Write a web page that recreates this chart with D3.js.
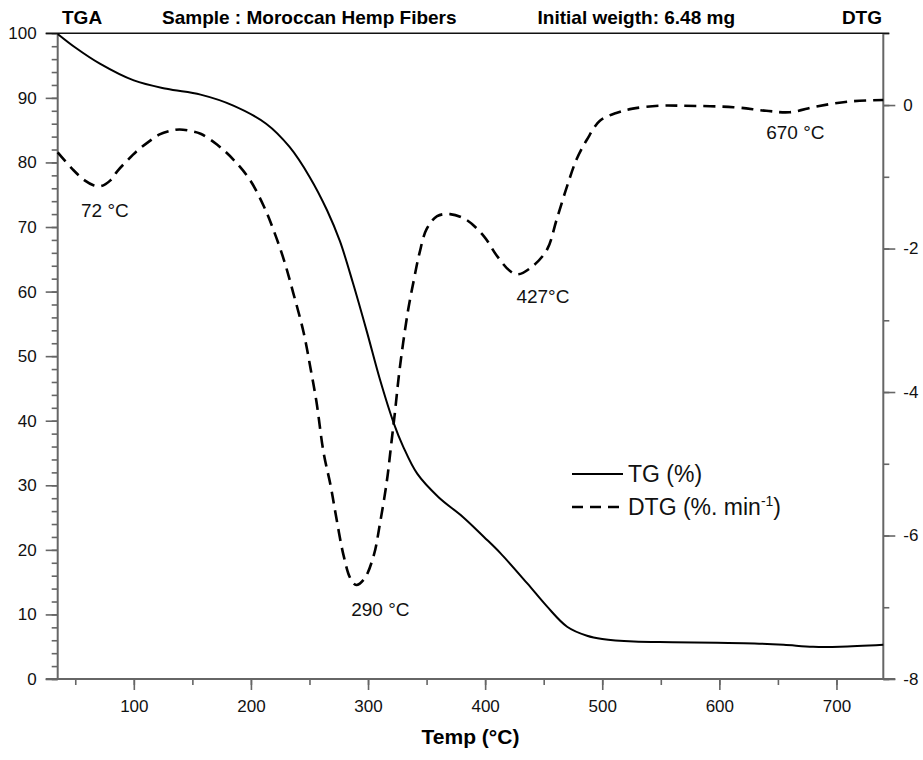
<!DOCTYPE html>
<html>
<head>
<meta charset="utf-8">
<script src="https://cdn.jsdelivr.net/npm/d3@7"></script>
<style>
  html, body { margin: 0; padding: 0; background: #fff; }
  svg { display: block; font-family: "Liberation Sans", Arial, Helvetica, sans-serif; }
</style>
</head>
<body>
<svg id="chart" width="923" height="760"></svg>
<script>
// Thermogravimetric curve: temperature (°C) and residual mass (%)
const tgTemp = [35, 50, 71, 100, 128, 157, 185, 213, 233, 250, 265, 276, 287, 299, 310, 322, 330, 342, 360, 381, 399, 413, 436, 453, 470, 487, 500, 527, 560, 598, 630, 655, 680, 703, 740];
const tgValue = [99.9, 97.8, 95.3, 92.7, 91.4, 90.5, 88.8, 86.0, 82.4, 77.8, 72.6, 67.8, 61.4, 53.8, 46.5, 39.6, 36.0, 31.8, 28.2, 25.1, 22.0, 19.5, 14.8, 11.2, 8.1, 6.7, 6.2, 5.8, 5.7, 5.6, 5.5, 5.3, 5.0, 5.0, 5.3];

// Derivative curve: temperature (°C) and mass-loss rate (%/min)
const dtgTemp = [35, 48, 58, 66, 72, 80, 86, 94, 102, 112, 122, 131, 139, 148, 157, 171, 185, 199, 211, 219, 228, 236, 245, 251, 256, 262, 268, 273, 279, 285, 290, 297, 305, 310, 316, 320, 323, 327, 334, 339, 344, 350, 359, 370, 384, 399, 410, 421, 428, 441, 453, 461, 470, 478, 487, 498, 512, 526, 549, 569, 612, 640, 660, 683, 711, 740];
const dtgValue = [-0.66, -0.90, -1.05, -1.12, -1.13, -1.05, -0.92, -0.78, -0.65, -0.52, -0.41, -0.36, -0.34, -0.36, -0.40, -0.55, -0.76, -1.04, -1.41, -1.73, -2.15, -2.61, -3.17, -3.68, -4.14, -4.84, -5.30, -5.76, -6.27, -6.60, -6.69, -6.60, -6.27, -5.85, -5.25, -4.70, -4.28, -3.68, -2.88, -2.45, -2.06, -1.73, -1.55, -1.52, -1.60, -1.83, -2.10, -2.31, -2.36, -2.24, -2.01, -1.60, -1.13, -0.76, -0.48, -0.22, -0.11, -0.05, -0.01, -0.01, -0.03, -0.08, -0.10, -0.02, 0.05, 0.07];

// Axis ticks
const xTicks = [100, 200, 300, 400, 500, 600, 700];
const tgTicks = [0, 10, 20, 30, 40, 50, 60, 70, 80, 90, 100];
const dtgTicks = [-8, -6, -4, -2, 0];

// Peak annotations on the derivative curve
const peakLabels = ["72 °C", "290 °C", "427°C", "670 °C"];
const peakTemp = [72, 290, 428, 670];
const peakValue = [-1.13, -6.69, -2.36, -0.07];

// Header texts
const headerLeft = "TGA";
const headerSample = "Sample : Moroccan Hemp Fibers";
const headerWeight = "Initial weigth: 6.48 mg";
const headerRight = "DTG";
const xTitle = "Temp (°C)";

const svg = d3.select("#chart");
const W = 923, H = 760;
const m = { left: 57.7, right: 39.7, top: 33.3, bottom: 81 };
const x0 = m.left, x1 = W - m.right, y0 = H - m.bottom, y1 = m.top;

const x = d3.scaleLinear().domain([35, 740]).range([x0, x1]);
const yL = d3.scaleLinear().domain([0, 100]).range([y0, y1]);
const yR = d3.scaleLinear().domain([-8, 1]).range([y0, y1]);

const axisColor = "#666";
const tickFont = 17;

// Bottom axis: majors every 100, minors at 50s
const gx = svg.append("g").attr("transform", `translate(0,${y0})`);
gx.call(d3.axisBottom(x).tickValues(d3.range(50, 741, 50)).tickSize(6).tickFormat(""));
gx.append("g").call(d3.axisBottom(x).tickValues(xTicks).tickSize(11).tickPadding(10).tickFormat(d3.format("d")));
gx.selectAll(".domain").remove();
gx.selectAll("line").attr("stroke", axisColor).attr("stroke-width", 1.6);
gx.selectAll("text").attr("font-size", tickFont).attr("fill", "#111").attr("font-family", null);
gx.append("line").attr("x1", x0 - 12).attr("x2", x1 + 12).attr("stroke", axisColor).attr("stroke-width", 2);

// Left axis (TG %): majors every 10, minors every 2
const gl = svg.append("g").attr("transform", `translate(${x0},0)`);
gl.call(d3.axisLeft(yL).tickValues(d3.range(0, 101, 2)).tickSize(6).tickFormat(""));
gl.append("g").call(d3.axisLeft(yL).tickValues(tgTicks).tickSize(12).tickPadding(9).tickFormat(d3.format("d")));
gl.selectAll(".domain").remove();
gl.selectAll("line").attr("stroke", axisColor).attr("stroke-width", 1.6);
gl.selectAll("text").attr("font-size", tickFont).attr("fill", "#111").attr("font-family", null);
gl.append("line").attr("y1", y0).attr("y2", y1).attr("stroke", axisColor).attr("stroke-width", 2);

// Right axis (DTG): majors every 2, minors every 1
const gr = svg.append("g").attr("transform", `translate(${x1},0)`);
gr.call(d3.axisRight(yR).tickValues(d3.range(-8, 2, 1)).tickSize(6).tickFormat(""));
gr.append("g").call(d3.axisRight(yR).tickValues(dtgTicks).tickSize(12).tickPadding(8).tickFormat(d => d3.format("d")(d).replace("−", "-")));
gr.selectAll(".domain").remove();
gr.selectAll("line").attr("stroke", axisColor).attr("stroke-width", 1.6);
gr.selectAll("text").attr("font-size", tickFont).attr("fill", "#111").attr("font-family", null);
gr.append("line").attr("y1", y0).attr("y2", y1).attr("stroke", axisColor).attr("stroke-width", 2);

// Top frame line
svg.append("line").attr("x1", x0 - 12).attr("x2", x1 + 6).attr("y1", y1).attr("y2", y1)
  .attr("stroke", "#111").attr("stroke-width", 1.5);

// Curves
const tgData = tgTemp.map((t, i) => [t, tgValue[i]]);
const dtgData = dtgTemp.map((t, i) => [t, dtgValue[i]]);
const smooth = d3.curveCatmullRom.alpha(0.5);

svg.append("path").datum(tgData)
  .attr("fill", "none").attr("stroke", "#000").attr("stroke-width", 2)
  .attr("d", d3.line().x(d => x(d[0])).y(d => yL(d[1])).curve(smooth));

svg.append("path").datum(dtgData)
  .attr("fill", "none").attr("stroke", "#000").attr("stroke-width", 2.6)
  .attr("stroke-dasharray", "12,7")
  .attr("d", d3.line().x(d => x(d[0])).y(d => yR(d[1])).curve(smooth));

// Peak annotations (offsets place each label beside its minimum)
const labelOffsets = [[-20, 31], [24, 31], [25, 29], [-6, 29]];
svg.append("g").selectAll("text").data(peakLabels).join("text")
  .attr("x", (d, i) => x(peakTemp[i]) + labelOffsets[i][0])
  .attr("y", (d, i) => yR(peakValue[i]) + labelOffsets[i][1])
  .attr("text-anchor", (d, i) => i === 0 ? "start" : "middle")
  .attr("font-size", 19).attr("fill", "#111")
  .text(d => d);

// Header
const header = svg.append("g").attr("font-weight", "bold").attr("font-size", 19).attr("fill", "#000");
header.append("text").attr("x", 62).attr("y", 24).text(headerLeft);
header.append("text").attr("x", 162).attr("y", 24).text(headerSample);
header.append("text").attr("x", 735).attr("y", 24).attr("text-anchor", "end").text(headerWeight);
header.append("text").attr("x", 882).attr("y", 24).attr("text-anchor", "end").text(headerRight);

// X axis title
svg.append("text").attr("x", (x0 + x1) / 2).attr("y", 744).attr("text-anchor", "middle")
  .attr("font-weight", "bold").attr("font-size", 21).text(xTitle);

// Legend
const legend = svg.append("g").attr("font-size", 23).attr("fill", "#111");
legend.append("line").attr("x1", 572).attr("x2", 623).attr("y1", 474).attr("y2", 474)
  .attr("stroke", "#000").attr("stroke-width", 2);
legend.append("text").attr("x", 628).attr("y", 482).text("TG (%)");
legend.append("line").attr("x1", 572).attr("x2", 623).attr("y1", 507).attr("y2", 507)
  .attr("stroke", "#000").attr("stroke-width", 2.6).attr("stroke-dasharray", "11,7");
const dl = legend.append("text").attr("x", 628).attr("y", 515);
dl.append("tspan").text("DTG (%. min");
dl.append("tspan").attr("font-size", 14).attr("dy", -9).text("-1");
dl.append("tspan").attr("dy", 9).text(")");
</script>
</body>
</html>
